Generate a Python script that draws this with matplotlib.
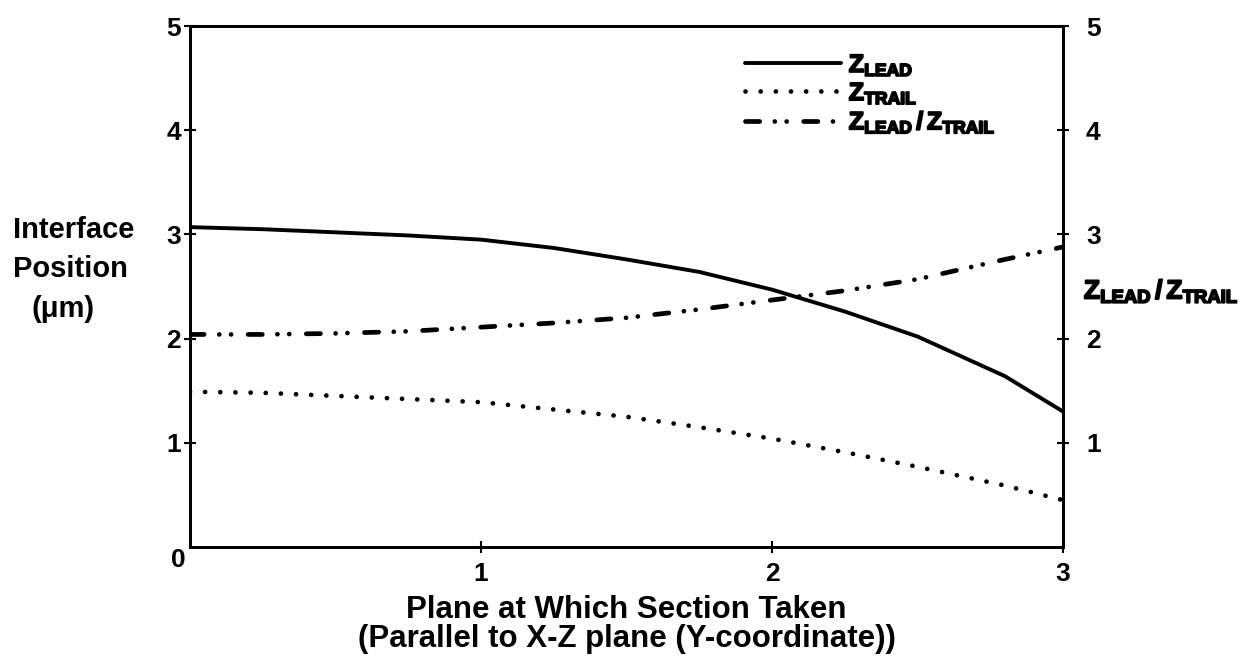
import matplotlib
matplotlib.use('Agg')
import matplotlib.pyplot as plt
import matplotlib.patheffects as pe

plt.rcParams['font.family'] = ['Liberation Sans', 'DejaVu Sans']
plt.rcParams['font.weight'] = 'bold'
plt.rcParams['mathtext.fontset'] = 'custom'
plt.rcParams['mathtext.rm'] = 'Liberation Sans:bold'
plt.rcParams['mathtext.it'] = 'Liberation Sans:bold'
plt.rcParams['mathtext.bf'] = 'Liberation Sans:bold'

# values
plane = [0, 0.25, 0.5, 0.75, 1.0, 1.25, 1.5, 1.75, 2.0, 2.25, 2.5, 2.8, 3.0]
z_lead = [3.07, 3.05, 3.02, 2.99, 2.95, 2.87, 2.76, 2.64, 2.47, 2.26, 2.02, 1.64, 1.30]
z_trail = [1.49, 1.48, 1.45, 1.42, 1.39, 1.32, 1.25, 1.15, 1.04, 0.91, 0.77, 0.59, 0.45]
lead_trail_ratio = [2.04, 2.04, 2.05, 2.07, 2.11, 2.15, 2.20, 2.28, 2.37, 2.46, 2.57, 2.76, 2.88]
x_ticks = [1, 2, 3]
y_ticks = [1, 2, 3, 4, 5]

LEAD = r'$\mathbf{Z}_{\mathbf{LEAD}}$'
TRAIL = r'$\mathbf{Z}_{\mathbf{TRAIL}}$'
RATIO = r'$\mathbf{Z}_{\mathbf{LEAD}}\,\mathbf{/}\,\mathbf{Z}_{\mathbf{TRAIL}}$'
# mathtext comes out light, thicken it a bit
thick = [pe.withStroke(linewidth=1.3, foreground='black')]

fig = plt.figure(figsize=(12.53, 6.62), dpi=100)
ax = fig.add_axes([0.1516, 0.1737, 0.6968, 0.787])
ax2 = ax.twinx()

l1, = ax.plot(plane, z_lead, color='black', lw=2.8, solid_capstyle='round', label=LEAD)
l2, = ax.plot(plane, z_trail, color='black', lw=3.4, dash_capstyle='round',
              linestyle=(0, (0.01, 3.2)), label=TRAIL)
l3, = ax2.plot(plane, lead_trail_ratio, color='black', lw=3.4, dash_capstyle='round',
               linestyle=(0, (3.0, 3.2, 0.01, 2.5, 0.01, 3.6)), label=RATIO)

for a in (ax, ax2):
    a.set_xlim(0, 3)
    a.set_ylim(0, 5)
    for s in a.spines.values():
        s.set_linewidth(2.0)
    a.set_yticks(y_ticks)
    a.tick_params(axis='y', direction='inout', length=9, width=1.5, labelsize=19, pad=2)

ax.set_xticks(x_ticks)
ax.tick_params(axis='x', direction='inout', length=9, width=1.5, labelsize=19, pad=6)
ax2.tick_params(axis='y', pad=12)
ax.text(-0.04, -0.12, '0', fontsize=19, ha='center', va='center', fontweight='bold')

ax.set_xlabel('Plane at Which Section Taken\n(Parallel to X-Z plane (Y-coordinate))',
              fontsize=22.5, fontweight='bold', labelpad=7, linespacing=0.95)

fig.text(0.010, 0.64, 'Interface', fontsize=21, fontweight='bold', va='baseline')
fig.text(0.010, 0.582, 'Position', fontsize=21, fontweight='bold', va='baseline')
fig.text(0.025, 0.521, '(\u03bcm)', fontsize=21, fontweight='bold', va='baseline')

fig.text(0.865, 0.56, RATIO, fontsize=19, va='center', ha='left', path_effects=thick)

leg = ax.legend(handles=[l1, l2, l3], loc='upper left', frameon=False, fontsize=18,
                bbox_to_anchor=(745 / 1253, 1 - 52 / 662), bbox_transform=fig.transFigure,
                borderpad=0, borderaxespad=0, handlelength=3.85, handletextpad=0.3,
                labelspacing=0.08)
for t in leg.get_texts():
    t.set_path_effects(thick)

fig.savefig('out.png', dpi=100)
